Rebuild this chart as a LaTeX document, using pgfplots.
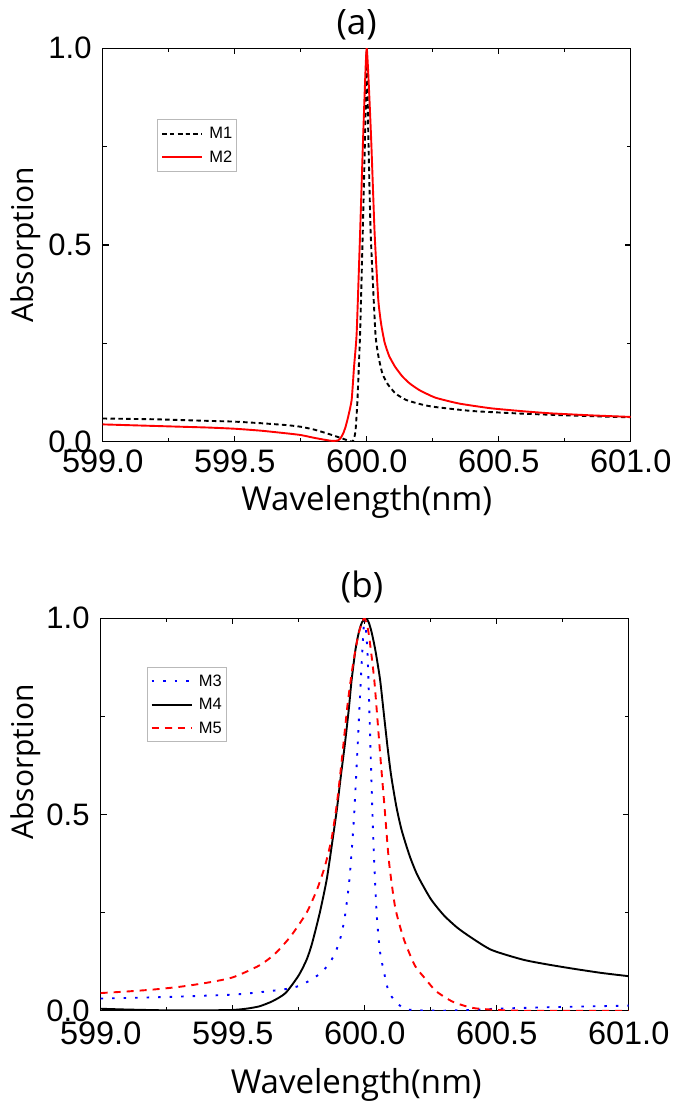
\documentclass[border=0pt]{standalone}
\usepackage{fontspec}
\setmainfont{Liberation Sans}
\newfontfamily\labfont{Open Sans}
\usepackage{pgfplots}
\pgfplotsset{compat=1.18}

\pgfplotsset{
  panel/.style={
    scale only axis, width=528pt,
    xmin=599, xmax=601, ymin=0, ymax=1,
    xtick={599,599.5,600,600.5,601}, ytick={0,0.5,1},
    minor x tick num=1, minor y tick num=1,
    tick align=inside,
    major tick length=6pt, minor tick length=4pt,
    every tick/.style={black, line width=1.2pt},
    axis line style={line width=1.3pt},
    /pgf/number format/.cd, fixed, fixed zerofill, precision=1, assume math mode=true,
    /pgfplots/.cd,
    yticklabel style={font=\fontsize{31}{31}\selectfont, inner sep=0pt, xshift=-11pt},
    xticklabel style={font=\fontsize{32.5}{32.5}\selectfont, inner sep=0pt},
    every axis y label/.style={rotate=90, anchor=base, font=\labfont\fontsize{30}{30}\selectfont},
    every axis x label/.style={anchor=base, font=\labfont\fontsize{33}{33}\selectfont},
    every axis title/.style={anchor=base, font=\labfont\fontsize{35}{35}\selectfont},
    % sample line 40pt long, then a gap before the text
    legend image code/.code={\draw[##1] plot coordinates {(0pt,0pt) (40pt,0pt)}; \path (45.3pt,0pt);},
    legend cell align=left,
    legend style={anchor=north west, draw=gray!55, line width=1pt,
      font=\fontsize{16.5}{16.5}\selectfont,
      inner xsep=3.4pt, inner ysep=2.1pt,
      nodes={inner xsep=1pt, inner ysep=5.3pt}},
  },
}

\begin{document}
\begin{tikzpicture}
\path[use as bounding box] (0,0) rectangle (675pt,-1104pt);

% panel (a)
\begin{axis}[panel,
  at={(102.7pt,-441.7pt)}, anchor=south west, height=393.4pt,
  title={(a)}, title style={at={(axis description cs:0.481,1.036)}},
  xlabel={Wavelength(nm)}, xlabel style={at={(axis description cs:0.5,-0.1736)}},
  ylabel={Absorption}, ylabel style={at={(axis description cs:-0.132,0.5)}},
  xticklabel style={yshift=-8.3pt},
  legend style={at={(rel axis cs:0.1034,0.8195)}},
]
\addplot[black, line width=1.9pt, dash pattern=on 4.5pt off 3.3pt, smooth, tension=0.3] coordinates {
(599.00,0.059) (599.10,0.058) (599.20,0.057) (599.30,0.055) (599.40,0.053)
(599.50,0.051) (599.60,0.047) (599.70,0.042) (599.75,0.038) (599.80,0.031)
(599.85,0.021) (599.90,0.010) (599.925,0.004) (599.945,0.000) (599.952,0.008)
(599.958,0.030) (599.965,0.106) (599.975,0.276) (599.985,0.530) (599.994,0.784)
(600.000,0.990) (600.006,0.784) (600.015,0.530) (600.033,0.276) (600.045,0.215)
(600.060,0.172) (600.080,0.146) (600.110,0.122) (600.150,0.106) (600.200,0.096)
(600.250,0.089) (600.400,0.078) (600.600,0.071) (600.800,0.066) (601.000,0.062)
};
\addlegendentry{M1}
\addplot[red, line width=1.9pt, smooth, tension=0.3] coordinates {
(599.00,0.044) (599.10,0.042) (599.20,0.040) (599.30,0.038) (599.40,0.036)
(599.50,0.033) (599.60,0.028) (599.70,0.021) (599.75,0.017) (599.80,0.010)
(599.84,0.005) (599.87,0.002) (599.89,0.003) (599.90,0.008) (599.911,0.021)
(599.920,0.038) (599.930,0.064) (599.943,0.106) (599.952,0.190) (599.962,0.276)
(599.975,0.530) (599.987,0.784) (600.000,1.000) (600.016,0.784) (600.030,0.530)
(600.044,0.360) (600.055,0.298) (600.068,0.252) (600.085,0.218) (600.108,0.190)
(600.135,0.166) (600.163,0.148) (600.200,0.131) (600.260,0.112) (600.350,0.097)
(600.470,0.085) (600.600,0.077) (600.700,0.072) (600.850,0.067) (601.000,0.063)
};
\addlegendentry{M2}
\end{axis}

% panel (b)
\begin{axis}[panel,
  at={(100.7pt,-1010.7pt)}, anchor=south west, height=392.4pt,
  title={(b)}, title style={at={(axis description cs:0.495,1.053)}},
  xlabel={Wavelength(nm)}, xlabel style={at={(axis description cs:0.484,-0.211)}},
  ylabel={Absorption}, ylabel style={at={(axis description cs:-0.128,0.634)}},
  xticklabel style={yshift=-11pt},
  legend style={at={(rel axis cs:0.0871,0.8767)}},
]
\addplot[blue, line width=1.9pt, dash pattern=on 2.5pt off 9pt, smooth, tension=0.4] coordinates {
(599.00,0.031) (599.25,0.035) (599.50,0.041) (599.60,0.047) (599.70,0.055)
(599.75,0.063) (599.80,0.080) (599.84,0.100) (599.87,0.125) (599.89,0.150)
(599.91,0.190) (599.925,0.240) (599.94,0.320) (599.95,0.400) (599.96,0.500)
(599.97,0.630) (599.98,0.770) (599.992,0.930) (600.000,1.000) (600.010,0.920)
(600.017,0.780) (600.024,0.620) (600.033,0.430) (600.045,0.250) (600.058,0.150)
(600.071,0.105) (600.090,0.050) (600.115,0.025) (600.150,0.005) (600.200,0.001)
(600.300,0.000) (600.400,0.002) (600.500,0.005) (600.700,0.009) (601.000,0.013)
};
\addlegendentry{M3}
\addplot[black, line width=1.9pt, smooth, tension=0.4] coordinates {
(599.00,0.005) (599.10,0.003) (599.25,0.001) (599.40,0.001) (599.50,0.002)
(599.55,0.005) (599.60,0.011) (599.65,0.024) (599.70,0.045) (599.75,0.090)
(599.78,0.130) (599.80,0.170) (599.83,0.250) (599.856,0.334) (599.875,0.420)
(599.894,0.510) (599.91,0.600) (599.925,0.680) (599.94,0.770) (599.95,0.840)
(599.965,0.920) (599.978,0.965) (599.99,0.990) (600.005,1.000) (600.015,0.990)
(600.026,0.965) (600.04,0.920) (600.058,0.845) (600.072,0.760) (600.086,0.675)
(600.10,0.600) (600.12,0.520) (600.14,0.460) (600.17,0.395) (600.20,0.345)
(600.25,0.285) (600.30,0.243) (600.35,0.212) (600.40,0.188) (600.48,0.155)
(600.60,0.130) (600.70,0.117) (600.80,0.106) (600.90,0.096) (601.00,0.088)
};
\addlegendentry{M4}
\addplot[red, line width=1.9pt, dash pattern=on 7pt off 6pt, smooth, tension=0.4] coordinates {
(599.00,0.045) (599.10,0.049) (599.20,0.054) (599.30,0.061) (599.40,0.071)
(599.50,0.085) (599.60,0.115) (599.66,0.145) (599.72,0.190) (599.78,0.250)
(599.82,0.310) (599.85,0.370) (599.875,0.440) (599.895,0.530) (599.915,0.650)
(599.935,0.780) (599.955,0.880) (599.975,0.955) (599.99,0.990) (600.00,1.000)
(600.013,0.970) (600.025,0.910) (600.038,0.830) (600.059,0.650) (600.075,0.520)
(600.092,0.380) (600.115,0.265) (600.14,0.200) (600.155,0.170) (600.19,0.115)
(600.225,0.085) (600.27,0.050) (600.33,0.024) (600.38,0.012) (600.42,0.006)
(600.50,0.002) (600.60,0.000) (601.00,0.000)
};
\addlegendentry{M5}
\end{axis}
\end{tikzpicture}
\end{document}
